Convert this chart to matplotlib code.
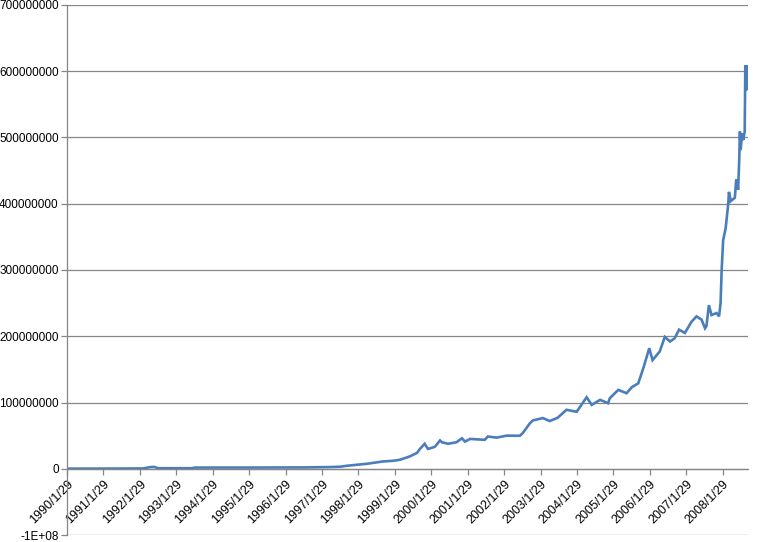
import numpy as np
import pandas as pd
import matplotlib
matplotlib.use('Agg')
import matplotlib.pyplot as plt
from matplotlib.ticker import FuncFormatter

# 数据（从图上读取，单位：百万）
dates = [
    '1990-01-29', '1991-06-01', '1992-03-01', '1992-05-11', '1992-06-20', '1992-08-01',
    '1993-07-01', '1993-08-05', '1995-01-01', '1996-08-01', '1997-04-01', '1997-07-25',
    '1997-10-05', '1998-04-23', '1998-10-01', '1999-01-11', '1999-03-22', '1999-06-28',
    '1999-09-09', '1999-10-08', '1999-11-24', '1999-12-27', '2000-02-13', '2000-03-08',
    '2000-04-26', '2000-05-15', '2000-07-16', '2000-10-08', '2000-12-02', '2001-01-01',
    '2001-02-21', '2001-07-19', '2001-08-18', '2001-11-14', '2002-02-24', '2002-07-06',
    '2002-08-04', '2002-10-16', '2002-11-14', '2003-02-21', '2003-05-01', '2003-07-20',
    '2003-10-16', '2004-01-26', '2004-03-14', '2004-05-05', '2004-06-25', '2004-09-17',
    '2004-12-06', '2004-12-24', '2005-03-18', '2005-06-10', '2005-07-31', '2005-10-05',
    '2005-11-29', '2006-01-23', '2006-02-25', '2006-05-08', '2006-06-28', '2006-08-19',
    '2006-10-05', '2006-11-18', '2007-01-15', '2007-03-23', '2007-05-12', '2007-07-02',
    '2007-08-05', '2007-08-19', '2007-09-13', '2007-10-09', '2007-11-29', '2007-12-24',
    '2008-01-08', '2008-01-19', '2008-02-03', '2008-02-28', '2008-03-25', '2008-04-01',
    '2008-04-19', '2008-05-30', '2008-06-13', '2008-07-02', '2008-07-13', '2008-07-20',
    '2008-07-27', '2008-08-11', '2008-08-22', '2008-09-06', '2008-09-09', '2008-09-12',
    '2008-09-16', '2008-09-20', '2008-09-24', '2008-09-28', '2008-10-02', '2008-10-06',
    '2008-10-09',
]
values_m = [
    0.2, 0.3, 0.5, 2.5, 2.8, 0.8,
    0.8, 1.8, 1.8, 2.0, 2.5, 3.0,
    4.5, 7.5, 11, 12, 13.6, 18.6,
    24, 30, 37.7, 30, 32, 33.6,
    42.7, 40, 37.7, 40, 46, 41,
    45, 43.7, 48.7, 47, 50, 49.8,
    54, 69, 73, 76.5, 72, 77,
    89, 86, 96.5, 108, 96.5, 104,
    99, 106.6, 119, 114, 123, 129,
    154, 182, 164, 177, 199, 192,
    197, 210, 205, 222, 230, 225,
    212, 215, 247, 232, 235, 230,
    250, 300, 345, 363, 400, 418,
    404, 409, 437, 421, 466, 509,
    481, 506, 496, 509, 556, 609,
    590, 571, 609, 577, 609, 572,
    605,
]
tick_labels = [f'{y}/1/29' for y in range(1990, 2009)]
y_ticks = [-1e8, 0, 1e8, 2e8, 3e8, 4e8, 5e8, 6e8, 7e8]

x = pd.to_datetime(dates)
y = np.array(values_m) * 1e6
tick_pos = pd.to_datetime([f'{y_}-01-29' for y_ in range(1990, 2009)])

plt.rcParams['font.family'] = ['Liberation Sans', 'DejaVu Sans']

fig = plt.figure(figsize=(7.6, 5.42), dpi=100)
ax = fig.add_axes([0.0882, 0.0129, 0.896, 0.9779])

ax.plot(x, y, color='#4a7ebb', linewidth=1.9, solid_joinstyle='miter')

ax.set_ylim(-1e8, 7e8)
ax.set_xlim(pd.Timestamp('1990-01-29'), pd.Timestamp('2008-10-09'))
ax.set_yticks(y_ticks)
ax.yaxis.set_major_formatter(FuncFormatter(lambda v, p: '-1E+08' if v < 0 else f'{int(round(v))}'))
ax.grid(axis='y', color='#868686', linewidth=0.9)
ax.set_axisbelow(True)

for s in ['top', 'right']:
    ax.spines[s].set_visible(False)
ax.spines['bottom'].set_position(('data', 0))
ax.spines['bottom'].set_color('#868686')
ax.spines['left'].set_color('#868686')
ax.spines['bottom'].set_linewidth(0.9)
ax.spines['left'].set_linewidth(0.9)

ax.tick_params(axis='x', direction='out', length=4, color='#868686', width=0.9,
               labelsize=9, pad=3)
ax.tick_params(axis='y', direction='out', length=4, color='#868686', width=0.9,
               labelsize=8.5, pad=2)

ax.set_xticks(tick_pos)
ax.set_xticklabels(tick_labels)
for lbl in ax.get_xticklabels():
    lbl.set_rotation(45)
    lbl.set_ha('right')
    lbl.set_va('top')
    lbl.set_rotation_mode('anchor')

fig.savefig('out.png', dpi=100)
